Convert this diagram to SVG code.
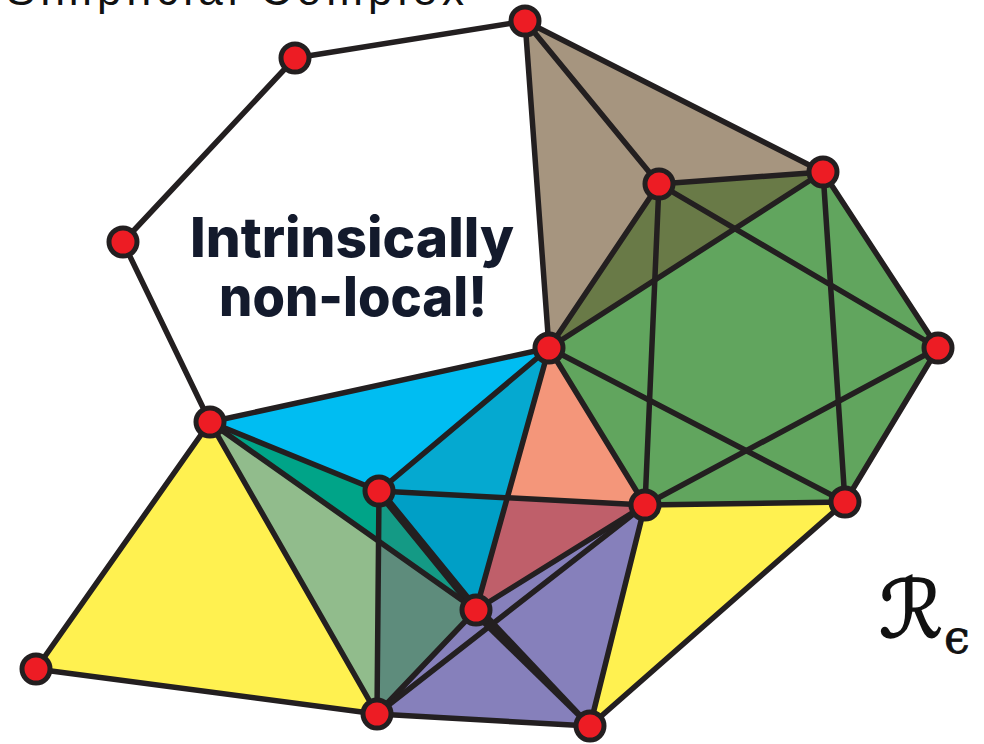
<svg xmlns="http://www.w3.org/2000/svg" width="984" height="744" viewBox="0 0 984 744">
<style>
.e{stroke:#231f20;stroke-width:5.5;stroke-linecap:round;fill:none}
.t{stroke:#231f20;stroke-width:8.5;stroke-linecap:round;fill:none}
.n{fill:#ed1c24;stroke:#231f20;stroke-width:5}
.f{stroke:none}
</style>
<rect width="984" height="744" fill="#ffffff"/>
<text x="6" y="5" font-family="'Liberation Sans', Arial, sans-serif" font-size="44" textLength="458" fill="#111111">Simplicial Complex</text>
<g id="faces">
<polygon class="f" fill="#61a55e" points="549,348 659,184 823,172 938,348 845,502 645,505"/>
<polygon class="f" fill="#a6957f" points="525,21 823,172 549,348"/>
<polygon class="f" fill="#697a47" points="549,348 659,184 823,172"/>
<polygon class="f" fill="#00bdf2" points="210,422 549,348 379,491"/>
<polygon class="f" fill="#05a9d0" points="379,491 549,348 507.3,497.8"/>
<polygon class="f" fill="#f4967a" points="549,348 645,505 507.3,497.8"/>
<polygon class="f" fill="#bf5f6a" points="645,505 476,610 507.3,497.8"/>
<polygon class="f" fill="#009fc6" points="476,610 379,491 507.3,497.8"/>
<polygon class="f" fill="#00a488" points="210,422 379,491 378.6,541.1"/>
<polygon class="f" fill="#149a85" points="379,491 476,610 378.6,541.1"/>
<polygon class="f" fill="#5e8c7c" points="476,610 377,714 378.6,541.1"/>
<polygon class="f" fill="#91bc8c" points="377,714 210,422 378.6,541.1"/>
<polygon class="f" fill="#fff150" points="36,669 210,422 377,714"/>
<polygon class="f" fill="#8680bb" points="377,714 476,610 645,505 590,726"/>
<polygon class="f" fill="#fff150" points="645,505 845,502 590,726"/>
</g>
<g id="connectors">
<line class="e" x1="525" y1="21" x2="295" y2="58"/>
<line class="e" x1="295" y1="58" x2="123" y2="242"/>
<line class="e" x1="123" y1="242" x2="210" y2="422"/>
<line class="e" x1="525" y1="21" x2="549" y2="348"/>
<line class="e" x1="525" y1="21" x2="659" y2="184"/>
<line class="e" x1="525" y1="21" x2="823" y2="172"/>
<line class="e" x1="549" y1="348" x2="659" y2="184"/>
<line class="e" x1="659" y1="184" x2="823" y2="172"/>
<line class="e" x1="823" y1="172" x2="938" y2="348"/>
<line class="e" x1="938" y1="348" x2="845" y2="502"/>
<line class="e" x1="845" y1="502" x2="645" y2="505"/>
<line class="e" x1="645" y1="505" x2="549" y2="348"/>
<line class="e" x1="549" y1="348" x2="823" y2="172"/>
<line class="e" x1="659" y1="184" x2="938" y2="348"/>
<line class="e" x1="549" y1="348" x2="845" y2="502"/>
<line class="e" x1="938" y1="348" x2="645" y2="505"/>
<line class="e" x1="659" y1="184" x2="645" y2="505"/>
<line class="e" x1="823" y1="172" x2="845" y2="502"/>
<line class="e" x1="210" y1="422" x2="549" y2="348"/>
<line class="e" x1="210" y1="422" x2="379" y2="491"/>
<line class="e" x1="379" y1="491" x2="549" y2="348"/>
<line class="e" x1="379" y1="491" x2="645" y2="505"/>
<line class="e" x1="549" y1="348" x2="476" y2="610"/>
<line class="e" x1="645" y1="505" x2="476" y2="610"/>
<line class="t" x1="379" y1="491" x2="476" y2="610"/>
<line class="e" x1="210" y1="422" x2="476" y2="610"/>
<line class="e" x1="210" y1="422" x2="377" y2="714"/>
<line class="e" x1="379" y1="491" x2="377" y2="714"/>
<line class="e" x1="476" y1="610" x2="377" y2="714"/>
<line class="e" x1="210" y1="422" x2="36" y2="669"/>
<line class="e" x1="36" y1="669" x2="377" y2="714"/>
<line class="e" x1="377" y1="714" x2="645" y2="505"/>
<line class="e" x1="377" y1="714" x2="590" y2="726"/>
<line class="e" x1="645" y1="505" x2="590" y2="726"/>
<polygon fill="#231f20" points="471.6,614.2 480.4,605.8 592.2,724.2 587.8,727.8"/>
<line class="e" x1="845" y1="502" x2="590" y2="726"/>
</g>
<g id="nA"><circle class="n" cx="295" cy="58" r="14"/></g>
<g id="nB"><circle class="n" cx="525" cy="21" r="14"/></g>
<g id="nC"><circle class="n" cx="123" cy="242" r="14"/></g>
<g id="nD"><circle class="n" cx="210" cy="422" r="14"/></g>
<g id="nE"><circle class="n" cx="549" cy="348" r="14"/></g>
<g id="nF"><circle class="n" cx="659" cy="184" r="14"/></g>
<g id="nG"><circle class="n" cx="823" cy="172" r="14"/></g>
<g id="nH"><circle class="n" cx="938" cy="348" r="14"/></g>
<g id="nI"><circle class="n" cx="845" cy="502" r="14"/></g>
<g id="nJ"><circle class="n" cx="645" cy="505" r="14"/></g>
<g id="nK"><circle class="n" cx="379" cy="491" r="14"/></g>
<g id="nL"><circle class="n" cx="476" cy="610" r="14"/></g>
<g id="nM"><circle class="n" cx="36" cy="669" r="14"/></g>
<g id="nN"><circle class="n" cx="377" cy="714" r="14"/></g>
<g id="nO"><circle class="n" cx="590" cy="726" r="14"/></g>
<g id="label-nonlocal" font-family="Inter, 'Noto Sans', sans-serif" font-weight="800" font-size="55" fill="#131a2c" text-anchor="middle">
<text x="352" y="257" textLength="324" lengthAdjust="spacingAndGlyphs">Intrinsically</text>
<text x="353" y="316" textLength="268" lengthAdjust="spacingAndGlyphs">non-local!</text>
</g>
<g id="label-R" fill="#111111" stroke="#111111" font-family="'DejaVu Serif', 'DejaVu Sans', serif">
<text x="879" y="637" font-size="80" stroke-width="1.6">ℛ</text>
<text x="944" y="653" font-size="46" stroke-width="0.8">ϵ</text>
</g>
</svg>
